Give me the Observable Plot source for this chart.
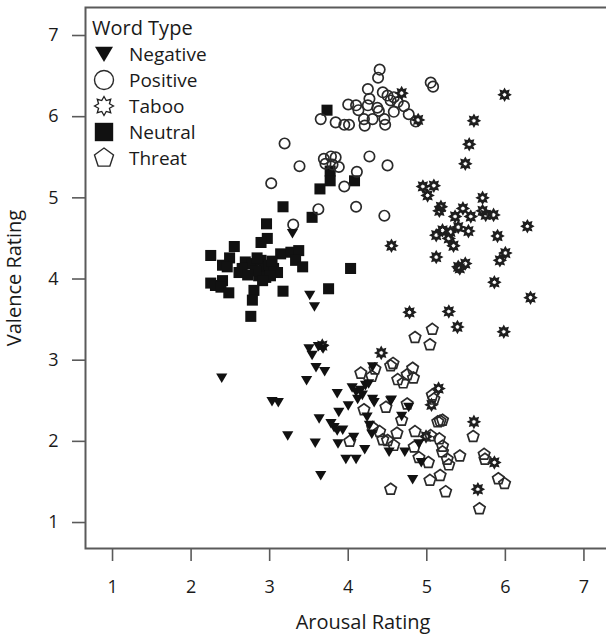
<!DOCTYPE html>
<html><head><meta charset="utf-8">
<script src="https://cdn.jsdelivr.net/npm/d3@7"></script>
<script src="https://cdn.jsdelivr.net/npm/@observablehq/plot@0.6"></script>
<style>
html,body{margin:0;padding:0;background:#fff;overflow:hidden;}
#wrap{position:relative;width:606px;height:637px;overflow:hidden;}
#chart{width:640px;}
#legend{position:absolute;left:88px;top:16px;font-family:"Open Sans",sans-serif;color:#1a1a1a;}
#legend .title{font-size:20px;line-height:24px;margin-left:4px;margin-bottom:1px;}
#legend .row{display:flex;align-items:center;height:26px;font-size:19px;}
#legend .row svg{width:32px;height:26px;margin-right:9px;}
svg.plot{max-width:none !important;width:640px !important;height:637px !important;}
svg.plot text{fill:#1a1a1a;}
g[aria-label$="tick"]{stroke:#5a5a5a;stroke-width:1.6px;}
g[aria-label$="tick label"], g[aria-label$="tick label"] text{font-size:18px;}
g[aria-label$="axis label"], g[aria-label$="axis label"] text{font-size:20px;}
</style>
</head><body>
<div id="wrap"><div id="chart"></div><div id="legend"></div></div>
<script>
// ---- data (Arousal rating, Valence rating) ----
const typeNames = ["Negative", "Positive", "Taboo", "Neutral", "Threat"];
const xTicks = [1, 2, 3, 4, 5, 6, 7];
const yTicks = [1, 2, 3, 4, 5, 6, 7];

const negative = [[2.39,2.78],[3.03,2.49],[3.11,2.48],[3.23,2.07],[3.50,3.14],[3.54,3.06],[3.62,3.17],[3.68,3.14],[3.59,2.91],[3.70,2.86],[3.47,2.75],[3.86,2.59],[4.10,2.61],[4.16,2.63],[4.22,2.69],[4.26,2.71],[4.12,2.52],[4.31,2.52],[4.33,2.48],[4.00,2.44],[3.88,2.36],[3.63,2.28],[3.78,2.22],[3.82,2.17],[3.86,2.13],[3.93,2.14],[4.24,2.30],[4.27,2.20],[4.30,2.09],[4.07,2.05],[3.58,1.98],[3.87,1.97],[4.21,1.90],[3.97,1.78],[4.10,1.78],[3.65,1.58],[4.52,1.87],[4.54,2.50],[4.31,2.92],[4.55,2.51],[4.77,2.42],[4.68,2.31],[4.72,1.87],[4.90,1.97],[4.93,1.74],[4.82,1.53],[3.29,4.56],[3.51,3.80],[3.57,3.66],[4.18,2.57],[4.05,2.66]];

const positive = [[4.40,6.58],[4.38,6.48],[5.05,6.42],[5.08,6.37],[4.25,6.34],[4.44,6.30],[4.50,6.26],[4.58,6.24],[4.54,6.20],[4.63,6.18],[4.27,6.22],[4.00,6.15],[4.10,6.14],[4.13,6.08],[4.25,6.14],[4.37,6.11],[4.39,6.07],[4.71,6.13],[4.58,6.06],[4.77,6.03],[4.86,5.94],[3.65,5.97],[3.84,5.93],[3.95,5.90],[4.01,5.90],[4.20,5.97],[4.31,5.97],[4.21,5.89],[4.46,5.97],[4.47,5.90],[3.19,5.67],[3.38,5.39],[3.69,5.48],[3.78,5.51],[3.84,5.50],[3.71,5.42],[3.80,5.41],[3.88,5.38],[4.27,5.51],[4.50,5.40],[4.11,5.32],[3.95,5.14],[3.62,4.86],[4.10,4.89],[4.46,4.78],[3.30,4.67],[3.02,5.18]];

const taboo = [[5.54,5.66],[5.49,5.42],[4.95,5.14],[5.09,5.15],[5.01,5.03],[5.71,5.00],[5.18,4.89],[5.16,4.84],[5.46,4.87],[5.71,4.84],[5.75,4.79],[5.85,4.79],[5.36,4.77],[5.56,4.77],[5.40,4.64],[5.20,4.60],[5.12,4.54],[5.30,4.58],[5.28,4.50],[5.53,4.59],[5.34,4.41],[5.90,4.53],[6.28,4.65],[5.12,4.27],[6.00,4.32],[5.93,4.23],[5.40,4.15],[5.42,4.13],[5.49,4.19],[5.86,3.96],[6.32,3.77],[4.78,3.59],[5.28,3.60],[5.39,3.41],[4.68,6.29],[4.89,5.96],[5.60,5.95],[5.99,6.27],[4.55,4.41],[5.98,3.35],[5.15,2.65],[5.06,2.45],[5.60,2.24],[5.86,1.74],[5.65,1.41],[4.99,2.06],[4.42,3.09],[3.67,3.18]];

const neutral = [[3.73,6.08],[3.77,5.33],[3.77,5.21],[3.64,5.11],[4.08,5.21],[3.17,4.89],[3.54,4.76],[2.96,4.68],[2.97,4.50],[2.89,4.45],[2.55,4.40],[2.25,4.29],[2.49,4.26],[3.14,4.31],[3.27,4.33],[3.37,4.35],[3.33,4.23],[3.42,4.15],[2.40,4.17],[2.46,4.15],[2.69,4.21],[2.78,4.19],[2.89,4.23],[2.93,4.15],[2.99,4.17],[3.05,4.13],[3.10,4.08],[2.86,4.04],[2.95,4.02],[3.01,4.04],[2.61,4.08],[2.65,4.13],[2.82,4.10],[2.91,3.98],[2.25,3.95],[2.31,3.92],[2.40,3.98],[2.38,3.90],[2.48,3.83],[2.80,3.86],[2.78,3.74],[3.17,3.85],[3.75,3.88],[4.03,4.13],[2.76,3.54],[2.72,4.05],[2.84,4.26],[3.03,4.22]];

const threat = [[4.16,2.84],[4.34,2.89],[4.54,2.93],[4.57,2.96],[4.63,2.76],[4.48,2.42],[4.20,2.39],[4.31,2.17],[4.44,2.02],[4.50,2.01],[4.58,1.95],[4.02,2.00],[4.54,1.41],[5.07,3.38],[4.85,3.28],[5.04,3.19],[4.82,2.90],[4.75,2.82],[4.83,2.78],[5.09,2.52],[5.07,2.57],[4.75,2.46],[4.68,2.26],[5.14,2.24],[5.20,2.26],[5.17,2.25],[5.59,2.06],[4.85,2.12],[5.05,2.07],[5.16,2.03],[5.20,1.94],[5.20,1.87],[4.84,1.93],[4.90,1.80],[5.02,1.74],[5.26,1.78],[5.28,1.71],[5.42,1.82],[5.73,1.84],[5.74,1.78],[5.91,1.54],[5.99,1.48],[5.04,1.52],[5.17,1.58],[5.24,1.38],[5.67,1.17],[4.30,2.80],[4.40,2.12],[4.62,2.10],[4.70,2.72]];

// ---- custom symbols ----
const rad = size => Math.sqrt(size / Math.PI);
const triDown = {draw(c, size){const r = rad(size); c.moveTo(0, r*0.9); c.lineTo(-r, -r*0.8); c.lineTo(r, -r*0.8); c.closePath();}};
const pentagon = {draw(c, size){const r = rad(size); for (let k = 0; k < 5; k++){const a = -Math.PI/2 + k*2*Math.PI/5; const x = r*Math.cos(a), y = r*Math.sin(a); if (k) c.lineTo(x, y); else c.moveTo(x, y);} c.closePath();}};
const sun = {draw(c, size){const r = rad(size); const n = 8; for (let i = 0; i < 2*n; i++){const rr = i % 2 ? r*0.62 : r; const a = -Math.PI/2 + i*Math.PI/n; const x = rr*Math.cos(a), y = rr*Math.sin(a); if (i) c.lineTo(x, y); else c.moveTo(x, y);} c.closePath();}};
const square = {draw(c, size){const h = rad(size)*0.92; c.rect(-h, -h, 2*h, 2*h);}};
const circle = {draw(c, size){const r = rad(size); c.moveTo(r, 0); c.arc(0, 0, r, 0, 2*Math.PI);}};

const styles = {
  Negative: {symbol: triDown, r: 5.6, fill: "#111", stroke: "none"},
  Positive: {symbol: circle, r: 5.2, fill: "none", stroke: "#2a2a2a", strokeWidth: 1.7},
  Taboo:    {symbol: sun, r: 4.8, fill: "none", stroke: "#1e1e1e", strokeWidth: 2.4},
  Neutral:  {symbol: square, r: 6.0, fill: "#111", stroke: "none"},
  Threat:   {symbol: pentagon, r: 6.0, fill: "none", stroke: "#2a2a2a", strokeWidth: 1.7}
};
const legendStyle = {
  Negative: {r: 9, strokeWidth: null},
  Positive: {r: 9.5, strokeWidth: 1.4},
  Taboo: {r: 9.5, strokeWidth: 1.3},
  Neutral: {r: 10, strokeWidth: null},
  Threat: {r: 10, strokeWidth: 1.4}
};
const sets = {Negative: negative, Positive: positive, Taboo: taboo, Neutral: neutral, Threat: threat};

const xv = d => d[0], yv = d => d[1];
const marks = [Plot.frame({stroke: "#5a5a5a", strokeWidth: 2})];
for (const name of ["Neutral", "Positive", "Taboo", "Threat", "Negative"]) {
  marks.push(Plot.dot(sets[name], {x: xv, y: yv, ...styles[name]}));
}

const chart = Plot.plot({
  width: 640, height: 637,
  marginLeft: 85, marginRight: 0, marginTop: 7, marginBottom: 89,
  style: {fontFamily: "'Open Sans', sans-serif", fontSize: "18px", color: "#1a1a1a", background: "#fff", maxWidth: "none"},
  x: {domain: [0.656, 7.72], ticks: xTicks, tickSize: 13, tickPadding: 19, tickFormat: d => d, label: "Arousal Rating", labelArrow: "none", labelAnchor: "center", labelOffset: 80},
  y: {domain: [0.68, 7.345], ticks: yTicks, tickSize: 13, tickPadding: 14, tickFormat: d => d, label: "Valence Rating", labelArrow: "none", labelAnchor: "center", labelOffset: 79},
  marks
});
chart.classList.add("plot");
document.getElementById("chart").appendChild(chart);

// ---- legend ----
const lg = document.getElementById("legend");
const t = document.createElement("div"); t.className = "title"; t.textContent = "Word Type"; lg.appendChild(t);
for (const name of typeNames) {
  const row = document.createElement("div"); row.className = "row";
  const s = styles[name], ls = legendStyle[name];
  const svg = d3.create("svg").attr("viewBox", "-16 -13 32 26");
  svg.append("path")
    .attr("d", d3.symbol(s.symbol, Math.PI*ls.r**2)())
    .attr("fill", s.fill).attr("stroke", s.stroke).attr("stroke-width", ls.strokeWidth);
  row.appendChild(svg.node());
  const span = document.createElement("span"); span.textContent = name; row.appendChild(span);
  lg.appendChild(row);
}
</script>
</body></html>
